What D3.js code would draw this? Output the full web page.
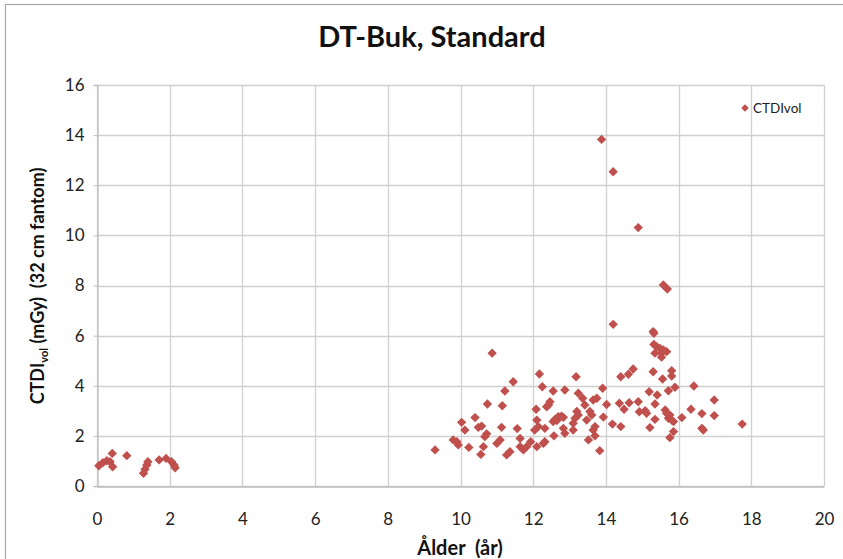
<!DOCTYPE html>
<html>
<head>
<meta charset="utf-8">
<script src="https://cdn.jsdelivr.net/npm/d3@7"></script>
<style>
  html, body { margin: 0; padding: 0; background: #fff; }
  svg { display: block; font-family: Lato, "Open Sans", sans-serif; }
  text { white-space: pre; }
</style>
</head>
<body>
<svg id="chart" width="843" height="559"></svg>
<script>
// CTDIvol per examination, abdomen CT standard protocol
const ages = [
  0.05, 0.16, 0.27, 0.36, 0.42, 0.43, 0.82, 1.28, 1.32, 1.37, 1.40, 1.71, 1.90, 2.05, 2.12, 2.15,
  9.30, 9.80, 9.90, 9.94, 10.03, 10.12, 10.23, 10.40, 10.49, 10.58, 10.56, 10.63, 10.67, 10.72, 10.74,
  10.87, 11.00, 11.09, 11.13, 11.15, 11.22, 11.27, 11.36, 11.45, 11.56, 11.64, 11.64, 11.73, 11.82,
  11.93, 12.04, 12.10, 12.08, 12.10, 12.14, 12.17, 12.25, 12.28, 12.32, 12.32, 12.37, 12.42, 12.46,
  12.55, 12.55, 12.57, 12.60, 12.65, 12.69, 12.78, 12.83, 12.83, 12.87, 12.87, 13.10, 13.10, 13.15,
  13.18, 13.20, 13.24, 13.24, 13.36, 13.42, 13.47, 13.52, 13.56, 13.61, 13.65, 13.65, 13.70, 13.70,
  13.75, 13.83, 13.88, 13.91, 13.93, 14.02, 14.18, 14.20, 14.20, 14.37, 14.41, 14.41, 14.50, 14.62,
  14.64, 14.75, 14.89, 14.89, 14.92, 15.08, 15.12, 15.19, 15.21, 15.30, 15.30, 15.32, 15.32, 15.35,
  15.35, 15.35, 15.40, 15.41, 15.49, 15.53, 15.53, 15.56, 15.58, 15.58, 15.63, 15.67, 15.67, 15.69,
  15.72, 15.72, 15.76, 15.76, 15.81, 15.81, 15.81, 15.86, 15.86, 15.90, 16.09, 16.34, 16.42, 16.64,
  16.64, 16.68, 16.98, 16.98, 17.75
];
const ctdiVol = [
  0.81, 0.93, 1.01, 0.97, 1.30, 0.77, 1.21, 0.51, 0.67, 0.84, 0.97, 1.04, 1.10, 0.97, 0.84, 0.73,
  1.44, 1.84, 1.77, 1.64, 2.54, 2.23, 1.54, 2.73, 2.34, 2.39, 1.26, 1.57, 1.97, 2.08, 3.27,
  5.30, 1.70, 1.84, 2.34, 3.20, 3.79, 1.24, 1.37, 4.16, 2.29, 1.90, 1.57, 1.44, 1.57,
  1.77, 2.23, 2.63, 3.06, 1.57, 2.37, 4.47, 3.96, 1.70, 1.77, 2.30, 3.16, 3.23, 3.36,
  3.79, 2.57, 2.00, 2.66, 2.61, 2.77, 2.79, 2.74, 2.30, 2.10, 3.83, 2.50, 2.23, 2.70,
  4.36, 2.97, 2.83, 3.70, 3.50, 3.23, 2.63, 1.84, 2.97, 2.83, 3.43, 2.23, 2.37, 2.00,
  3.50, 1.41, 13.83, 3.90, 2.75, 3.25, 2.47, 12.54, 6.45, 3.30, 4.36, 2.37, 3.06, 4.46,
  3.32, 4.67, 10.31, 3.36, 2.96, 3.00, 2.90, 3.76, 2.33, 4.56, 6.16, 6.09, 5.65, 5.30,
  3.27, 2.66, 5.56, 3.63, 5.49, 5.30, 5.14, 4.27, 5.43, 8.02, 3.03, 5.36, 2.90, 7.86,
  3.80, 2.70, 2.83, 1.93, 4.60, 4.39, 2.63, 2.57, 2.17, 3.94, 2.73, 3.06, 3.99, 2.89,
  2.30, 2.23, 3.43, 2.81, 2.47
];
const xTicks = [0, 2, 4, 6, 8, 10, 12, 14, 16, 18, 20];
const yTicks = [0, 2, 4, 6, 8, 10, 12, 14, 16];
const seriesName = "CTDIvol";
const chartTitle = "DT-Buk, Standard";
const xTitle = "Ålder  (år)";

const svg = d3.select("#chart");
const plot = { left: 97, right: 824, top: 85, bottom: 486 };
const markColor = "#C0504D";
const gridColor = "#D0D0D0";

const x = d3.scaleLinear().domain([0, 20]).range([plot.left, plot.right]);
const y = d3.scaleLinear().domain([0, 16]).range([plot.bottom, plot.top]);

// outer chart frame
svg.append("rect")
  .attr("x", 5.5).attr("y", 4.5).attr("width", 850).attr("height", 570)
  .attr("fill", "#fff").attr("stroke", "#A6A6A6").attr("stroke-width", 1.2);

// grid
const grid = svg.append("g");
grid.selectAll("line.h").data(yTicks).join("line")
  .attr("x1", plot.left).attr("x2", plot.right)
  .attr("y1", d => Math.round(y(d)) + 0.5).attr("y2", d => Math.round(y(d)) + 0.5)
  .attr("stroke", gridColor).attr("stroke-width", 1.3);
grid.selectAll("line.v").data(xTicks).join("line")
  .attr("y1", plot.top).attr("y2", plot.bottom)
  .attr("x1", d => Math.round(x(d)) + 0.5).attr("x2", d => Math.round(x(d)) + 0.5)
  .attr("stroke", gridColor).attr("stroke-width", 1.3);

// axes
const xAxis = svg.append("g")
  .attr("transform", `translate(0,${Math.round(plot.bottom) + 0.5})`)
  .call(d3.axisBottom(x).tickValues(xTicks).tickSize(0).tickPadding(35).tickFormat(d3.format("d")));
const yAxis = svg.append("g")
  .attr("transform", `translate(${Math.round(plot.left) + 0.5},0)`)
  .call(d3.axisLeft(y).tickValues(yTicks).tickSize(4).tickPadding(9).tickFormat(d3.format("d")));
[xAxis, yAxis].forEach(g => {
  g.select(".domain").attr("stroke", "#BFBFBF").attr("stroke-width", 1.3);
  g.selectAll(".tick line").attr("stroke", "#BFBFBF");
  g.selectAll(".tick text").attr("fill", "#222").style("font-size", "17px")
    .style("font-family", "Lato, 'Open Sans', sans-serif");
});
xAxis.selectAll(".tick text").attr("dy", "0.2em");

// points
const points = ages.map((a, i) => ({ age: a, v: ctdiVol[i] }));
const diamond = d3.symbol().type(d3.symbolSquare).size(44);
svg.append("g").selectAll("path").data(points).join("path")
  .attr("d", diamond)
  .attr("transform", d => `translate(${x(d.age)},${y(d.v)}) rotate(45)`)
  .attr("fill", markColor);

// legend
const legend = svg.append("g").attr("transform", "translate(745,108)");
legend.append("path").attr("d", d3.symbol().type(d3.symbolSquare).size(28))
  .attr("transform", "rotate(45)").attr("fill", markColor);
legend.append("text").attr("x", 8).attr("y", 0).attr("dy", "0.35em")
  .style("font-size", "13.5px").attr("fill", "#222").text(seriesName);

// titles
svg.append("text").attr("x", 432).attr("y", 47).attr("text-anchor", "middle")
  .style("font-size", "29px").style("font-weight", "bold").attr("fill", "#111")
  .text(chartTitle);

svg.append("text").attr("x", 460).attr("y", 555).attr("text-anchor", "middle")
  .style("font-size", "20px").style("font-weight", "bold").attr("fill", "#111")
  .text(xTitle);

const yt = svg.append("text")
  .attr("transform", "translate(44,286) rotate(-90)")
  .attr("text-anchor", "middle")
  .style("font-size", "18px").style("font-weight", "bold").attr("fill", "#111");
yt.append("tspan").text("CTDI");
yt.append("tspan").attr("dy", 4).style("font-size", "11px").text("vol");
yt.append("tspan").attr("dy", -4).text(" (mGy)  (32 cm fantom)");
</script>
</body>
</html>
